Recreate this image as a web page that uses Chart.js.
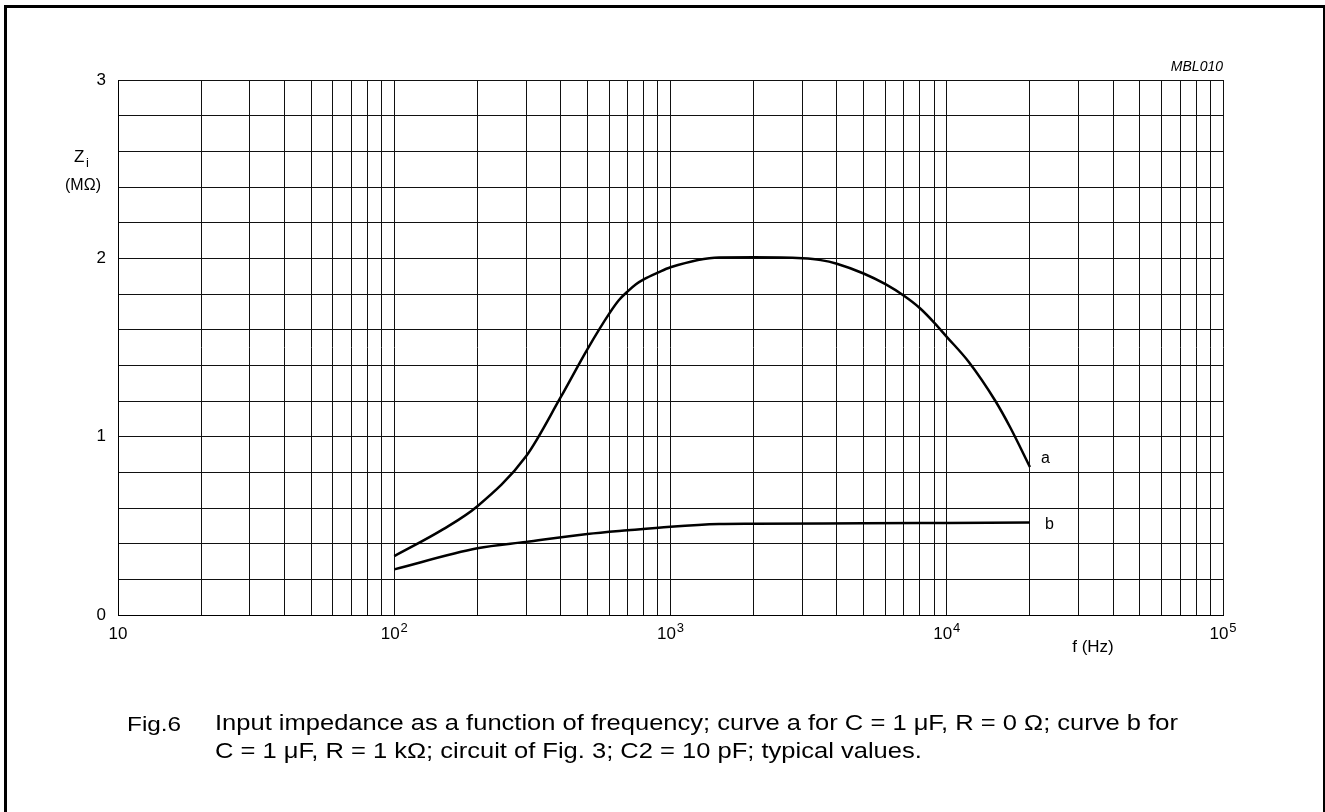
<!DOCTYPE html>
<html>
<head>
<meta charset="utf-8">
<script src="https://cdn.jsdelivr.net/npm/chart.js"></script>
<style>
  body { margin: 0; background: #fff; font-family: "Liberation Sans", Arial, sans-serif; }
  #wrap { position: relative; width: 1325px; height: 812px; overflow: hidden; }
  #frame { position: absolute; left: 4px; top: 5px; width: 1316px; height: 900px;
           border-left: 3px solid #000; border-top: 3px solid #000; border-right: 3px solid #000; }
  #chart { position: absolute; left: 0; top: 0; }
  .cap { position: absolute; font-size: 21px; color: #000; white-space: nowrap;
         transform: scaleX(1.16); transform-origin: left top; line-height: 28px; }
  .cap.body { font-size: 22px; }
</style>
</head>
<body>
<div id="wrap">
  <div id="frame"></div>
  <canvas id="chart" width="1325" height="812"></canvas>
  <div class="cap" style="left:127px; top:710px;">Fig.6</div>
  <div class="cap body" style="left:215px; top:709px;">Input impedance as a function of frequency; curve a for C = 1 μF, R = 0 Ω; curve b for<br>C = 1 μF, R = 1 kΩ; circuit of Fig. 3; C2 = 10 pF; typical values.</div>
</div>
<script>
// curve a: C = 1 uF, R = 0 ohm
const freqA = [100, 150, 200, 300, 400, 500, 600, 650, 700, 750, 800, 900, 1000, 1500, 2000, 3000, 3500, 4000, 5000, 6000, 7000, 8000, 9000, 10000, 12000, 15000, 17000, 20000];
const zA = [0.33, 0.48, 0.61, 0.89, 1.22, 1.49, 1.69, 1.765, 1.815, 1.855, 1.882, 1.92, 1.95, 2.005, 2.006, 2.0, 1.99, 1.97, 1.915, 1.855, 1.79, 1.72, 1.64, 1.56, 1.42, 1.2, 1.05, 0.83];

// curve b: C = 1 uF, R = 1 kohm
const freqB = [100, 200, 300, 500, 700, 1000, 1500, 2000, 5000, 10000, 20000];
const zB = [0.256, 0.374, 0.41, 0.454, 0.475, 0.495, 0.51, 0.512, 0.514, 0.516, 0.518];

// log grid: 1..9 per decade, 10 .. 1e5
const xTicks = [];
for (let d = 10; d < 100000; d *= 10) {
  for (let m = 1; m < 10; m++) xTicks.push(d * m);
}
xTicks.push(100000);
// labelled decades: [value, exponent text] (exponent '' for plain "10")
const xDecades = [10, 100, 1000, 10000, 100000];
const xExponents = ['', '2', '3', '4', '5'];

const yMin = 0, yMax = 3, yStep = 0.2;

const FONT = '"Liberation Sans", Arial, sans-serif';

function toPts(xs, ys) {
  return xs.map((x, i) => ({ x: x, y: ys[i] }));
}

// axis titles, decade labels with superscripts, curve names
const textPlugin = {
  id: 'annot',
  afterDraw(chart) {
    const ctx = chart.ctx;
    const area = chart.chartArea;
    const xs = chart.scales.x, ys = chart.scales.y;
    ctx.save();
    ctx.fillStyle = '#000';
    ctx.textBaseline = 'alphabetic';

    // decade labels 10, 10^2 ...
    xDecades.forEach((v, i) => {
      const px = xs.getPixelForValue(v);
      const exp = xExponents[i];
      ctx.font = '17px ' + FONT;
      const w1 = ctx.measureText('10').width;
      ctx.font = '13px ' + FONT;
      const w2 = exp ? ctx.measureText(exp).width + 1 : 0;
      const x0 = px - (w1 + w2) / 2;
      ctx.textAlign = 'left';
      ctx.font = '17px ' + FONT;
      ctx.fillText('10', x0, 639);
      if (exp) {
        ctx.font = '13px ' + FONT;
        ctx.fillText(exp, x0 + w1 + 1, 632);
      }
    });

    ctx.textBaseline = 'middle';
    // Z_i (MΩ)
    ctx.font = '17px ' + FONT;
    ctx.textAlign = 'left';
    ctx.fillText('Z', 74, 157);
    ctx.font = '13px ' + FONT;
    ctx.fillText('i', 86, 163);
    ctx.font = '16px ' + FONT;
    ctx.textAlign = 'center';
    ctx.fillText('(MΩ)', 83, 186);

    // f (Hz)
    ctx.font = '17px ' + FONT;
    ctx.fillText('f (Hz)', 1093, 647);

    // MBL010
    ctx.font = 'italic 14px ' + FONT;
    ctx.textAlign = 'right';
    ctx.fillText('MBL010', area.right, 67);

    // curve labels next to last points
    ctx.font = '16px ' + FONT;
    ctx.textAlign = 'left';
    const la = freqA.length - 1, lb = freqB.length - 1;
    ctx.fillText('a', xs.getPixelForValue(freqA[la]) + 11, ys.getPixelForValue(zA[la]) - 8);
    ctx.fillText('b', xs.getPixelForValue(freqB[lb]) + 15, ys.getPixelForValue(zB[lb]) + 2);
    ctx.restore();
  }
};

new Chart(document.getElementById('chart'), {
  type: 'scatter',
  data: {
    datasets: [
      {
        label: 'a',
        data: toPts(freqA, zA),
        showLine: true,
        borderColor: '#000',
        borderWidth: 2.5,
        pointRadius: 0,
        cubicInterpolationMode: 'monotone'
      },
      {
        label: 'b',
        data: toPts(freqB, zB),
        showLine: true,
        borderColor: '#000',
        borderWidth: 2.5,
        pointRadius: 0,
        cubicInterpolationMode: 'monotone'
      }
    ]
  },
  options: {
    responsive: false,
    animation: false,
    devicePixelRatio: 1,
    layout: { padding: { left: 0, top: 80, right: 102, bottom: 0 } },
    plugins: {
      legend: { display: false },
      tooltip: { enabled: false }
    },
    scales: {
      x: {
        type: 'logarithmic',
        min: 10,
        max: 100000,
        afterBuildTicks: (scale) => { scale.ticks = xTicks.map(v => ({ value: v })); },
        afterFit: (scale) => { scale.height = 197; },
        grid: { color: '#111', lineWidth: 1, drawTicks: false },
        border: { color: '#000', width: 1 },
        ticks: {
          autoSkip: false,
          maxRotation: 0,
          padding: 8,
          color: '#000',
          font: { family: FONT, size: 17 },
          callback: () => ''
        }
      },
      y: {
        min: yMin,
        max: yMax,
        afterFit: (scale) => { scale.width = 118; },
        grid: { color: '#111', lineWidth: 1, drawTicks: false },
        border: { color: '#000', width: 1 },
        ticks: {
          stepSize: yStep,
          padding: 12,
          color: '#000',
          font: { family: FONT, size: 17 },
          callback: (v) => Math.abs(v - Math.round(v)) < 1e-6 ? String(Math.round(v)) : ''
        }
      }
    }
  },
  plugins: [textPlugin]
});
</script>
</body>
</html>
